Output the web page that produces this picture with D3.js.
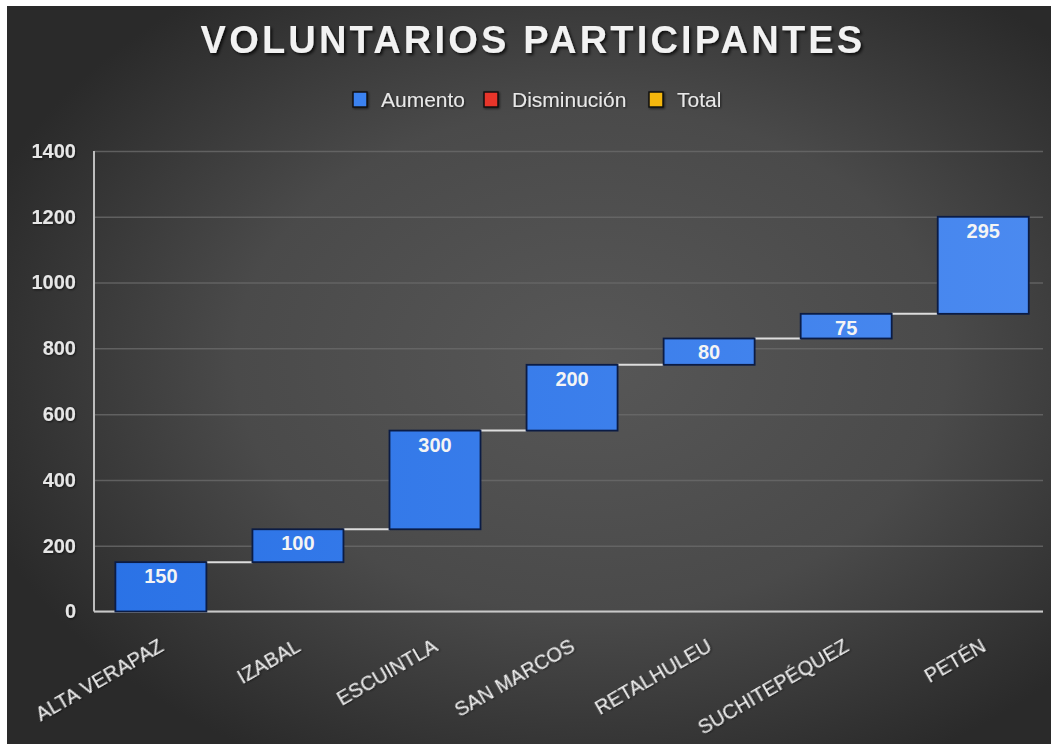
<!DOCTYPE html>
<html>
<head>
<meta charset="utf-8">
<script src="https://cdn.jsdelivr.net/npm/d3@7"></script>
<style>
  html, body { margin: 0; padding: 0; background: #ffffff; }
  svg { display: block; font-family: "Liberation Sans", Arial, sans-serif; }
</style>
</head>
<body>
<svg id="chart" width="1051" height="744"></svg>
<script>
// data
var categories = ["ALTA VERAPAZ", "IZABAL", "ESCUINTLA", "SAN MARCOS", "RETALHULEU", "SUCHITEPÉQUEZ", "PETÉN"];
var increments = [150, 100, 300, 200, 80, 75, 295];
var yTicks = [0, 200, 400, 600, 800, 1000, 1200, 1400];
var legendLabels = ["Aumento", "Disminución", "Total"];
var legendColors = ["#3b82f0", "#e8362c", "#f5b70a"];

function draw_waterfall()
{
    var svg = d3.select("svg#chart"),
      width = +svg.attr("width"),
      height = +svg.attr("height");

    var defs = svg.append("defs");

    // dark vignette background
    var bg = defs.append("radialGradient")
      .attr("id", "bg")
      .attr("cx", "56%").attr("cy", "48%")
      .attr("r", "62%");
    bg.append("stop").attr("offset", "0%").attr("stop-color", "#575757");
    bg.append("stop").attr("offset", "55%").attr("stop-color", "#4a4a4a");
    bg.append("stop").attr("offset", "100%").attr("stop-color", "#2a2a2a");

    // bars get a bit lighter to the right
    var barGrad = defs.append("linearGradient")
      .attr("id", "barfill")
      .attr("gradientUnits", "userSpaceOnUse")
      .attr("x1", 100).attr("x2", 1040).attr("y1", 0).attr("y2", 0);
    barGrad.append("stop").attr("offset", "0%").attr("stop-color", "#2a72e6");
    barGrad.append("stop").attr("offset", "100%").attr("stop-color", "#4b8af0");

    var shadow = defs.append("filter").attr("id", "shadow")
      .attr("x", "-10%").attr("y", "-30%").attr("width", "120%").attr("height", "160%");
    shadow.append("feDropShadow")
      .attr("dx", 2).attr("dy", 2).attr("stdDeviation", 1.5)
      .attr("flood-color", "#000").attr("flood-opacity", 0.75);

    var soft = defs.append("filter").attr("id", "soft")
      .attr("x", "-10%").attr("y", "-30%").attr("width", "120%").attr("height", "160%");
    soft.append("feDropShadow")
      .attr("dx", 1).attr("dy", 1).attr("stdDeviation", 1)
      .attr("flood-color", "#000").attr("flood-opacity", 0.6);

    svg.append("rect")
      .attr("x", 7).attr("y", 6)
      .attr("width", width - 7).attr("height", height - 6)
      .attr("fill", "url(#bg)");

    // Title
    svg.append("text")
      .attr("x", 533).attr("y", 53)
      .attr("text-anchor", "middle")
      .attr("font-size", "38px")
      .attr("font-weight", "bold")
      .attr("letter-spacing", "3.2px")
      .attr("fill", "#f2f2f2")
      .attr("filter", "url(#shadow)")
      .text("VOLUNTARIOS PARTICIPANTES");

    // Legend
    var legendX = [353, 484, 649];
    var legend = svg.append("g").attr("filter", "url(#soft)");
    legend.selectAll("rect")
      .data(legendLabels)
      .enter()
      .append("rect")
      .attr("x", function (d, i) { return legendX[i]; })
      .attr("y", 92)
      .attr("width", 14).attr("height", 15)
      .attr("fill", function (d, i) { return legendColors[i]; })
      .attr("stroke", "#111").attr("stroke-width", 1.5);
    legend.selectAll("text")
      .data(legendLabels)
      .enter()
      .append("text")
      .attr("x", function (d, i) { return legendX[i] + 28; })
      .attr("y", 107)
      .attr("font-size", "21px")
      .attr("fill", "#e8e8e8")
      .text(function (d) { return d; });

    // Scales
    var x = d3.scaleBand()
      .domain(categories)
      .range([94, 1043])
      .paddingInner(0.336)
      .paddingOuter(0.13)
      .align(0.6);

    var y = d3.scaleLinear()
      .domain([0, 1400])
      .range([611.5, 151]);

    // waterfall steps
    var data = [];
    var run = 0;
    categories.forEach(function (c, i) {
        data.push({key: c, start: run, end: run + increments[i], val: increments[i]});
        run += increments[i];
    });

    // grid lines
    svg.append("g")
      .attr("transform", "translate(94,0)")
      .call(d3.axisLeft(y).tickValues(yTicks).tickSize(-(1043 - 94)).tickFormat(""))
      .call(function (g) { g.select(".domain").remove(); })
      .selectAll("line")
      .attr("stroke", "#6a6a6a")
      .attr("stroke-width", 1.5)
      .attr("stroke-opacity", 0.8);

    // y labels
    var yAxis = svg.append("g")
      .attr("transform", "translate(94,0)")
      .call(d3.axisLeft(y).tickValues(yTicks).tickSize(0).tickPadding(18).tickFormat(d3.format("d")));
    yAxis.select(".domain").remove();
    yAxis.selectAll("text")
      .attr("font-family", "Liberation Sans, Arial, sans-serif")
      .attr("font-size", "20px")
      .attr("font-weight", "bold")
      .attr("fill", "#e6e6e6")
      .attr("filter", "url(#soft)");

    // axis lines
    svg.append("line")
      .attr("x1", 94).attr("x2", 94)
      .attr("y1", y(1400)).attr("y2", y(0))
      .attr("stroke", "#bdbdbd").attr("stroke-width", 2);
    svg.append("line")
      .attr("x1", 94).attr("x2", 1043)
      .attr("y1", y(0)).attr("y2", y(0))
      .attr("stroke", "#c8c8c8").attr("stroke-width", 2);

    // connectors
    svg.selectAll("line.conn")
      .data(data.slice(0, data.length - 1))
      .enter()
      .append("line")
      .attr("class", "conn")
      .attr("x1", function (d) { return x(d.key) + x.bandwidth(); })
      .attr("x2", function (d, i) { return x(categories[i + 1]); })
      .attr("y1", function (d) { return y(d.end); })
      .attr("y2", function (d) { return y(d.end); })
      .attr("stroke", "#dddddd")
      .attr("stroke-width", 2);

    // Bars
    svg.selectAll("rect.bar")
      .data(data)
      .enter()
      .append("rect")
      .attr("class", "bar")
      .attr("x", function (d) { return x(d.key); })
      .attr("y", function (d) { return y(d.end); })
      .attr("width", x.bandwidth())
      .attr("height", function (d) { return y(d.start) - y(d.end); })
      .attr("fill", "url(#barfill)")
      .attr("stroke", "#0b1c45")
      .attr("stroke-width", 1.8);

    // value labels
    svg.selectAll("text.val")
      .data(data)
      .enter()
      .append("text")
      .attr("class", "val")
      .attr("x", function (d) { return x(d.key) + x.bandwidth() / 2; })
      .attr("y", function (d) { return y(d.end) + 21; })
      .attr("text-anchor", "middle")
      .attr("font-size", "20px")
      .attr("font-weight", "bold")
      .attr("fill", "#f4f4f4")
      .text(function (d) { return d.val; });

    // category labels, slanted
    svg.selectAll("text.cat")
      .data(categories)
      .enter()
      .append("text")
      .attr("class", "cat")
      .attr("transform", function (d) {
          return "translate(" + (x(d) + x.bandwidth() / 2 + 4) + ",650) rotate(-30)";
      })
      .attr("text-anchor", "end")
      .attr("font-size", "20px")
      .attr("fill", "#ececec")
      .attr("filter", "url(#soft)")
      .text(function (d) { return d; });
}

draw_waterfall();
</script>
</body>
</html>
